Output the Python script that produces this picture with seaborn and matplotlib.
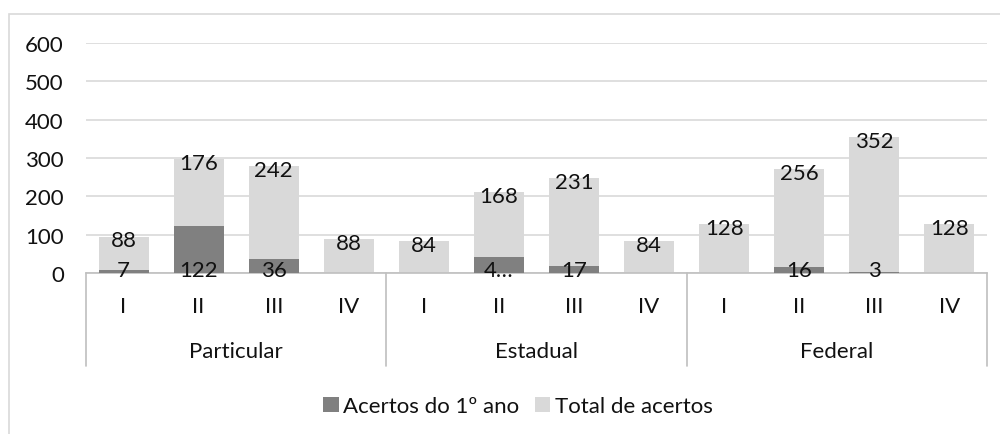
import numpy as np
import pandas as pd
import matplotlib
matplotlib.use("Agg")
import matplotlib.pyplot as plt
import matplotlib.transforms as mtransforms
from matplotlib.patches import Patch, Rectangle
import seaborn as sns

# data
groups = ["Particular", "Estadual", "Federal"]
levels = ["I", "II", "III", "IV"]
acertos_1ano = [7, 122, 36, 0, 0, 42, 17, 0, 0, 16, 3, 0]
total_acertos = [88, 176, 242, 88, 84, 168, 231, 84, 128, 256, 352, 128]
yticks = [0, 100, 200, 300, 400, 500, 600]

dark = "#808080"
light = "#D9D9D9"
grid_col = "#D9D9D9"
fs = 16

sns.set_style("white")
plt.rcParams["font.family"] = ["Lato", "DejaVu Sans"]
plt.rcParams["font.size"] = fs
plt.rcParams["text.color"] = "#111111"
plt.rcParams["ytick.color"] = "#111111"

df = pd.DataFrame({
    "grupo": np.repeat(groups, len(levels)),
    "nivel": levels * len(groups),
    "acertos": acertos_1ano,
    "total": total_acertos,
})
df["cat"] = df["grupo"] + " " + df["nivel"]
df["pilha"] = df["acertos"] + df["total"]
order = list(df["cat"])

fig = plt.figure(figsize=(10, 4.35), dpi=100)
ax = fig.add_axes([0.086, 0.3701, 0.901, 0.5288])

# stacked bars: full stack in light grey, first-year part on top in dark grey
sns.barplot(data=df, x="cat", y="pilha", order=order, color=light, saturation=1,
            width=0.667, linewidth=0, ax=ax, zorder=2)
sns.barplot(data=df, x="cat", y="acertos", order=order, color=dark, saturation=1,
            width=0.667, linewidth=0, ax=ax, zorder=3)

ax.set_ylim(0, 600)
ax.set_xlim(-0.5, len(order) - 0.5)
ax.set_yticks(yticks)
ax.yaxis.grid(True, color=grid_col, linewidth=1.2, zorder=0)
ax.set_axisbelow(True)
ax.tick_params(axis="y", length=0, pad=16, labelsize=fs)
ax.set_xticks([])
ax.set_xlabel("")
ax.set_ylabel("")
for s in ["top", "right", "left"]:
    ax.spines[s].set_visible(False)
ax.spines["bottom"].set_color("#BFBFBF")
ax.spines["bottom"].set_linewidth(1.2)

# value labels
for i, row in df.iterrows():
    ax.text(i, row["pilha"] - 10, str(row["total"]), ha="center", va="center", fontsize=fs, zorder=5)
    if row["acertos"] > 0:
        lab = str(row["acertos"]) if row["acertos"] != 42 else "4…"
        ax.text(i, 8, lab, ha="center", va="center", fontsize=fs, zorder=5)

# multi-level category axis
trans = mtransforms.blended_transform_factory(ax.transData, ax.transAxes)
for i, nv in enumerate(df["nivel"]):
    ax.text(i, -0.1435, nv, transform=trans, ha="center", va="center", fontsize=fs)
for g, name in enumerate(groups):
    mid = g * len(levels) + (len(levels) - 1) / 2
    ax.text(mid, -0.339, name, transform=trans, ha="center", va="center", fontsize=fs)
for k in range(len(groups) + 1):
    xs = k * len(levels) - 0.5
    ax.plot([xs, xs], [0, -0.404], transform=trans, color="#BFBFBF", linewidth=1.2, clip_on=False)

# legend
handles = [Patch(facecolor=dark, edgecolor="none", label="Acertos do 1º ano"),
           Patch(facecolor=light, edgecolor="none", label="Total de acertos")]
fig.legend(handles=handles, loc="center", bbox_to_anchor=(0.518, 0.064), ncol=2,
           frameon=False, fontsize=fs, handlelength=0.7, handleheight=0.7,
           handletextpad=0.2, columnspacing=0.7)

# chart frame (cropped)
fig.patches.append(Rectangle((0.009, -0.2), 1.2, 0.9655 + 0.2, transform=fig.transFigure,
                             fill=False, edgecolor=grid_col, linewidth=1.2))

fig.savefig("out.png", dpi=100)
